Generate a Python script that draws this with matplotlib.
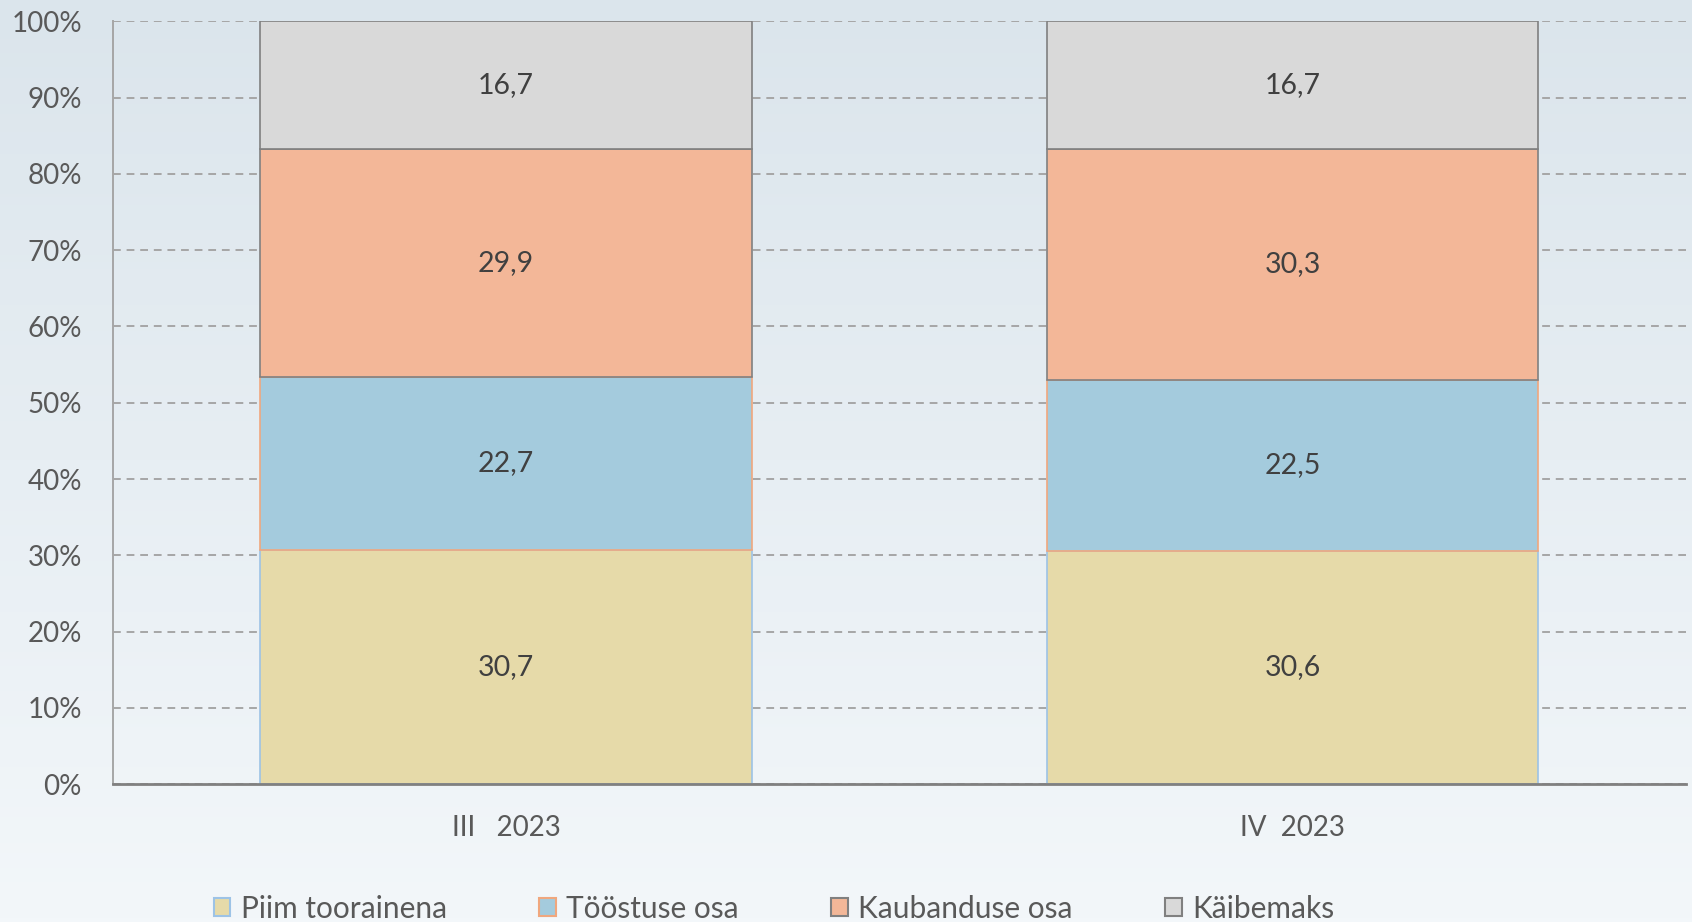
import numpy as np
import matplotlib
matplotlib.use("Agg")
import matplotlib.pyplot as plt
from matplotlib.patches import Patch

plt.rcParams['font.family'] = ['Lato', 'DejaVu Sans']

categories = ["III   2023", "IV  2023"]
series_names = ["Piim toorainena", "Tööstuse osa", "Kaubanduse osa", "Käibemaks"]
piim = [30.7, 30.6]
toostus = [22.7, 22.5]
kaubandus = [29.9, 30.3]
kaibemaks = [16.7, 16.7]
yticks = [0, 10, 20, 30, 40, 50, 60, 70, 80, 90, 100]
ytick_labels = [f"{v}%" for v in yticks]

series = [piim, toostus, kaubandus, kaibemaks]
fills = ["#E6DAA9", "#A4CBDD", "#F3B798", "#D9D9D9"]
edges = ["#9DC3E6", "#F0A77E", "#808080", "#808080"]

W, H = 1692, 922
fig = plt.figure(figsize=(W / 100, H / 100), dpi=100)

# gradient background
bg = fig.add_axes([0, 0, 1, 1], zorder=-10)
grad = np.linspace(0, 1, 256).reshape(-1, 1)
top = np.array([0xDB, 0xE5, 0xEC]) / 255
bot = np.array([0xF3, 0xF7, 0xFA]) / 255
img = top[None, None, :] * (1 - grad[:, :, None]) + bot[None, None, :] * grad[:, :, None]
bg.imshow(img, aspect='auto', extent=[0, 1, 0, 1], origin='upper')
bg.set_axis_off()

ax = fig.add_axes([112.5 / W, 1 - 784 / H, (1686 - 112.5) / W, (784 - 21.5) / H])
ax.set_facecolor('none')

totals = np.sum(np.array(series), axis=0)
x = np.arange(len(categories))
bottom = np.zeros(len(categories))
for name, vals, fc, ec in zip(series_names, series, fills, edges):
    h = np.array(vals) / totals * 100
    bars = ax.bar(x, h, 0.625, bottom=bottom, color=fc, edgecolor=ec, linewidth=1.2,
                  label=name, zorder=3)
    ax.bar_label(bars, labels=[f"{v:.1f}".replace('.', ',') for v in vals],
                 label_type='center', fontsize=20.5, color='#404040')
    bottom += h

ax.set_xlim(-0.5, 1.5)
ax.set_ylim(0, 100)
ax.set_yticks(yticks)
ax.set_yticklabels(ytick_labels)
ax.set_xticks(x)
ax.set_xticklabels(categories)
ax.tick_params(axis='y', length=0, pad=22, labelsize=20, labelcolor='#595959')
ax.tick_params(axis='x', length=0, pad=22, labelsize=20, labelcolor='#595959')

ax.yaxis.grid(True, color='#A6A6A6', linestyle=(0, (4, 3)), linewidth=1.4, zorder=0)
ax.set_axisbelow(True)
for s in ['top', 'right']:
    ax.spines[s].set_visible(False)
ax.spines['left'].set_color('#A6A6A6')
ax.spines['left'].set_linewidth(1.4)
ax.spines['bottom'].set_color('#808080')
ax.spines['bottom'].set_linewidth(2)
ax.spines['bottom'].set_zorder(4)

handles = [Patch(facecolor=fc, edgecolor=ec, linewidth=1.5) for fc, ec in zip(fills, edges)]
leg = fig.legend(handles, series_names, loc='center', bbox_to_anchor=(0.4575, 1 - 909 / H),
                 ncol=4, frameon=False, fontsize=21.5, labelcolor='#595959',
                 handlelength=0.55, handleheight=0.55, handletextpad=0.35,
                 columnspacing=3.1)

fig.savefig("out.png", dpi=100)
